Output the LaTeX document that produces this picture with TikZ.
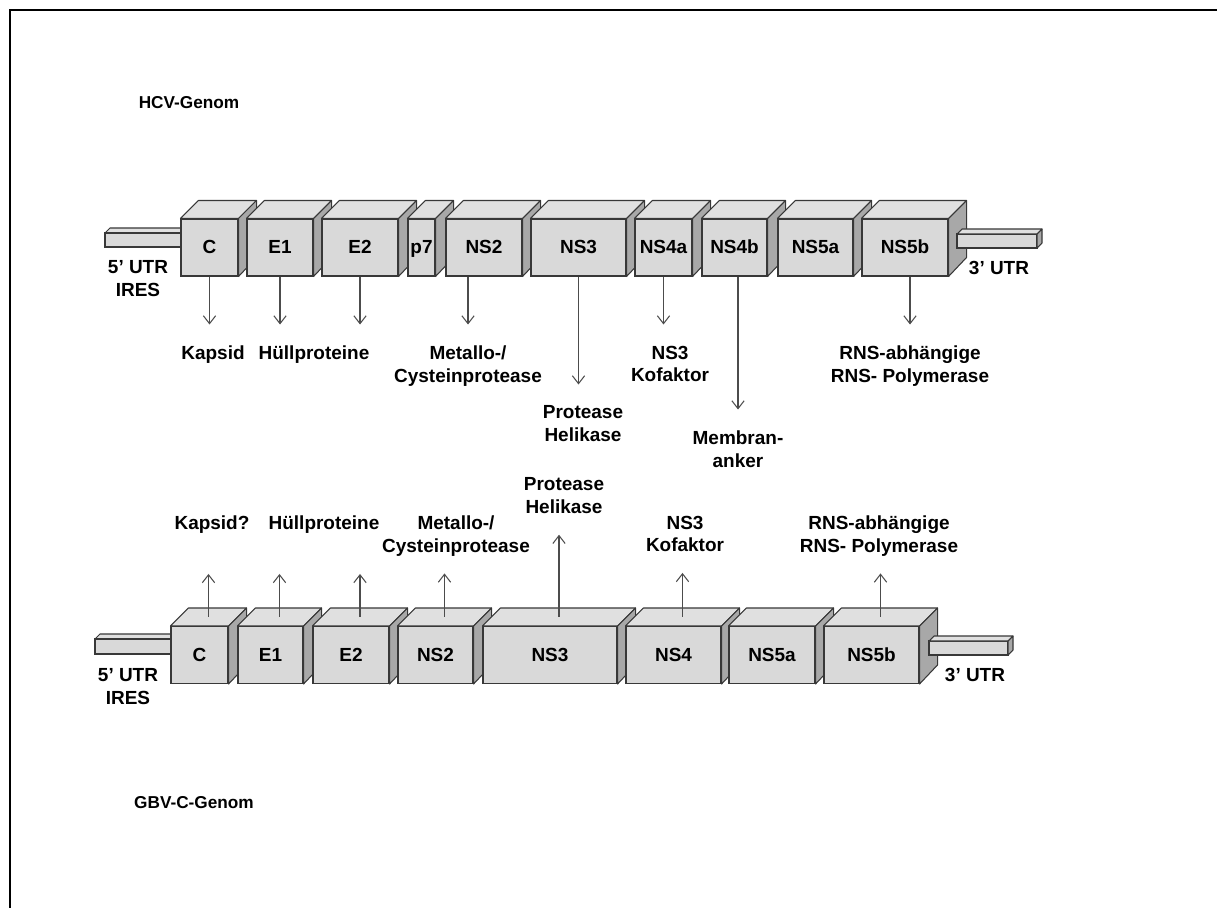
\documentclass[tikz,border=0pt]{standalone}
\usepackage{fontspec}
\setmainfont{Liberation Sans}
\usetikzlibrary{arrows.meta}
\definecolor{vorne}{gray}{0.85}
\definecolor{deckel}{gray}{0.88}
\definecolor{seitengrau}{gray}{0.66}
\definecolor{rand}{gray}{0.22}
\definecolor{pfeilgrau}{gray}{0.3}
\newcommand{\schrift}{\fontsize{10.8}{12.8}\selectfont\bfseries}
\newcommand{\titelschrift}{\fontsize{9.8}{12}\selectfont\bfseries}
\tikzset{
  segment/.style={draw=rand,fill=vorne,line width=0.6pt,minimum height=1.14cm,inner sep=0pt,
    text height=0.72em,text depth=0pt,font=\schrift},
  oben/.style={draw=rand,fill=deckel,line width=0.6pt,line join=round},
  seite/.style={draw=rand,fill=seitengrau,line width=0.6pt,line join=round},
  beschriftung/.style={inner sep=0pt,align=center,anchor=north,text depth=0pt,font=\schrift},
  pfeil/.style={-{Straight Barb[length=4.5pt,width=7pt]},draw=pfeilgrau,line width=0.6pt,shorten >=0.42cm},
}
% one gene segment: name, left, right, row centre, text
\newcommand{\genbox}[5]{%
  \node[segment,minimum width={(#3-#2)*0.02cm}] (#1) at ({(#2+#3)/2},#4) {#5};
  \filldraw[oben] (#1.north west) -- ++(18,-18) -- ([shift={(18,-18)}]#1.north east) -- (#1.north east) -- cycle;
  \filldraw[seite] (#1.north east) -- ++(18,-18) -- ++(0,57) -- (#1.south east) -- cycle;
  \coordinate (#1-top) at ([shift={(9,-9)}]#1.north);
}

\begin{document}
\begin{tikzpicture}[x=0.02cm,y=-0.02cm]
\useasboundingbox (0,0) rectangle (1217,908);
\draw[line width=1.1pt] (10,908) -- (10,10) -- (1217,10);

% HCV
\node[font=\titelschrift] (titelhcv) at (189,103) {HCV-Genom};
\filldraw[oben] (105,233) -- (110,228) -- (186,228) -- (181,233) -- cycle;
\filldraw[segment] (105,233) rectangle (181,247);
\genbox{hC}{181}{238}{247.5}{C}
\genbox{hE1}{247}{313}{247.5}{E1}
\genbox{hE2}{322}{398}{247.5}{E2}
\genbox{hp7}{408}{435}{247.5}{p7}
\genbox{hNS2}{446}{522}{247.5}{NS2}
\genbox{hNS3}{531}{626}{247.5}{NS3}
\genbox{hNS4a}{635}{692}{247.5}{NS4a}
\genbox{hNS4b}{702}{767}{247.5}{NS4b}
\genbox{hNS5a}{778}{853}{247.5}{NS5a}
\genbox{hNS5b}{862}{948}{247.5}{NS5b}
\filldraw[segment] (957,234) rectangle (1037,248);
\filldraw[oben] (957,234) -- (962,229) -- (1042,229) -- (1037,234) -- cycle;
\filldraw[seite] (1037,234) -- (1042,229) -- (1042,243) -- (1037,248) -- cycle;
\node[beschriftung] (hutr5) at (138,260.5) {5' UTR\\IRES};
\node[beschriftung] (hutr3) at (999,260.5) {3' UTR};

\node[beschriftung] (lkapsid) at (213,345.5) {Kapsid};
\node[beschriftung] (lhuell) at (314,345.5) {Hüllproteine};
\node[beschriftung] (lmetallo) at (468,345.5) {Metallo-/\\Cysteinprotease};
\node[beschriftung] (lprotease) at (583,405.5) {Protease\\Helikase};
\node[beschriftung] (lkofaktor) at (670,345.5) {NS3\\Kofaktor};
\node[beschriftung] (lmembran) at (738,430.5) {Membran-\\anker};
\node[beschriftung] (lrns) at (910,345.5) {RNS-abhängige\\RNS- Polymerase};

\draw[pfeil] (hC.south) -- (hC.south |- lkapsid.north);
\draw[pfeil] (hE1.south) -- (hE1.south |- lhuell.north);
\draw[pfeil] (hE2.south) -- (hE2.south |- lhuell.north);
\draw[pfeil] (hNS2.south -| lmetallo.north) -- (lmetallo.north);
\draw[pfeil] (hNS3.south) -- (hNS3.south |- lprotease.north);
\draw[pfeil] (hNS4a.south) -- (hNS4a.south |- lkofaktor.north);
\draw[pfeil] (hNS4b.south -| lmembran.north) -- (lmembran.north);
\draw[pfeil] (hNS5b.south -| lrns.north) -- (lrns.north);

% GBV-C
\filldraw[oben] (95,639) -- (100,634) -- (176,634) -- (171,639) -- cycle;
\filldraw[segment] (95,639) rectangle (171,654);
\genbox{gC}{171}{228}{655}{C}
\genbox{gE1}{238}{303}{655}{E1}
\genbox{gE2}{313}{389}{655}{E2}
\genbox{gNS2}{398}{473}{655}{NS2}
\genbox{gNS3}{483}{617}{655}{NS3}
\genbox{gNS4}{626}{721}{655}{NS4}
\genbox{gNS5a}{729}{815}{655}{NS5a}
\genbox{gNS5b}{824}{919}{655}{NS5b}
\filldraw[segment] (929,641) rectangle (1008,655);
\filldraw[oben] (929,641) -- (934,636) -- (1013,636) -- (1008,641) -- cycle;
\filldraw[seite] (1008,641) -- (1013,636) -- (1013,650) -- (1008,655) -- cycle;
\node[beschriftung] (gutr5) at (128,668.5) {5' UTR\\IRES};
\node[beschriftung] (gutr3) at (975,667.5) {3' UTR};

\node[beschriftung] (lgkapsid) at (212,515.5) {Kapsid?};
\node[beschriftung] (lghuell) at (324,515.5) {Hüllproteine};
\node[beschriftung] (lgmetallo) at (456,515.5) {Metallo-/\\Cysteinprotease};
\node[beschriftung] (lgprotease) at (564,477.5) {Protease\\Helikase};
\node[beschriftung] (lgkofaktor) at (685,515.5) {NS3\\Kofaktor};
\node[beschriftung] (lgrns) at (879,515.5) {RNS-abhängige\\RNS- Polymerase};

\draw[pfeil,shorten >=0.88cm] (gC-top) -- (gC-top |- lgkapsid.south);
\draw[pfeil,shorten >=0.88cm] (gE1-top) -- (gE1-top |- lghuell.south);
\draw[pfeil,shorten >=0.88cm] (gE2-top) -- (gE2-top |- lghuell.south);
\draw[pfeil] (gNS2-top) -- (gNS2-top |- lgmetallo.south);
\draw[pfeil] (gNS3-top) -- (gNS3-top |- lgprotease.south);
\draw[pfeil] (gNS4-top) -- (gNS4-top |- lgkofaktor.south);
\draw[pfeil] (gNS5b-top) -- (gNS5b-top |- lgrns.south);

\node[font=\titelschrift] (titelgbv) at (194,803) {GBV-C-Genom};
\end{tikzpicture}
\end{document}
